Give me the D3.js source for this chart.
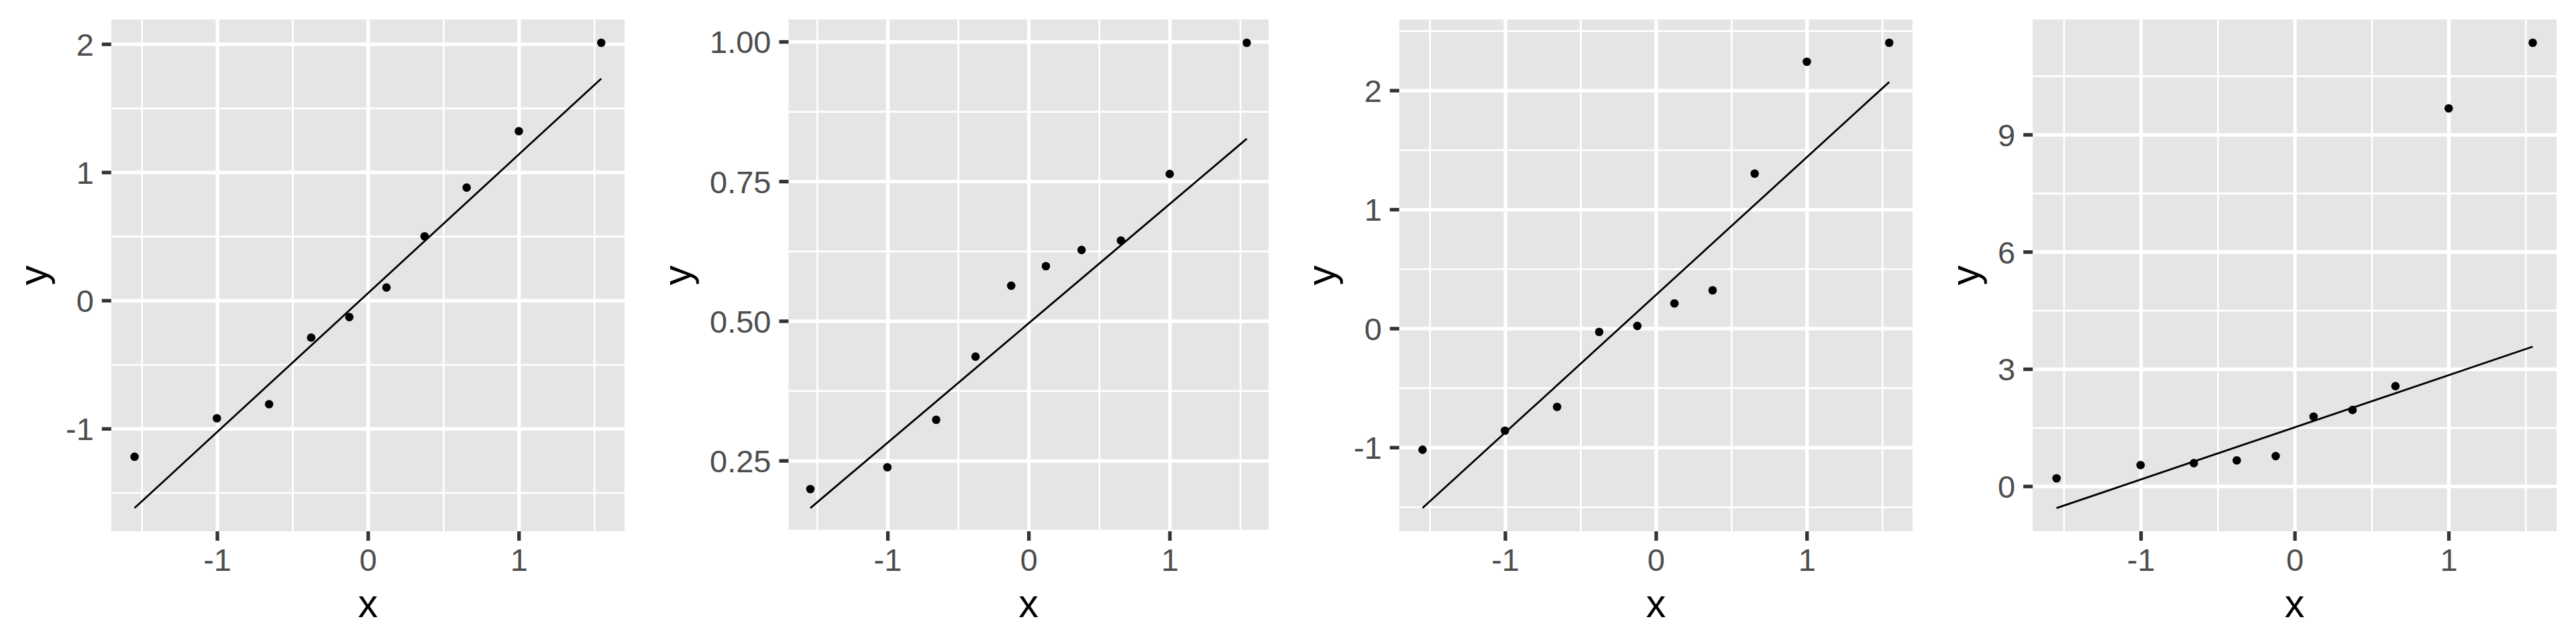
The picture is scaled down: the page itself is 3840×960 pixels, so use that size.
<!DOCTYPE html>
<html>
<head>
<meta charset="utf-8">
<script src="https://cdn.jsdelivr.net/npm/d3@7"></script>
<style>
  body { margin: 0; background: #fff; }
  svg { display: block; font-family: 'Liberation Sans', Arial, sans-serif; }
</style>
</head>
<body>
<svg></svg>
<script>
// theoretical normal quantiles (x) shared by all four panels
const theoretical = [-1.547, -1.001, -0.655, -0.376, -0.123, 0.123, 0.376, 0.655, 1.001, 1.547];

// sample quantiles (y)
const sampleA = [-1.22, -0.92, -0.81, -0.29, -0.13, 0.10, 0.50, 0.88, 1.32, 2.01];
const sampleB = [0.199, 0.238, 0.323, 0.436, 0.563, 0.598, 0.627, 0.644, 0.763, 0.998];
const sampleC = [-1.02, -0.86, -0.66, -0.03, 0.02, 0.21, 0.32, 1.30, 2.24, 2.40];
const sampleD = [0.20, 0.54, 0.59, 0.66, 0.77, 1.78, 1.95, 2.56, 9.67, 11.35];

// qq line: y at the first and last theoretical quantile
const lineA = [-1.62, 1.73];
const lineB = [0.165, 0.826];
const lineC = [-1.51, 2.07];
const lineD = [-0.56, 3.57];

// tick values and labels
const xTicks = [-1, 0, 1];
const xTickLabels = ['-1', '0', '1'];
const yTicksA = [-1, 0, 1, 2];
const yTickLabelsA = ['-1', '0', '1', '2'];
const yTicksB = [0.25, 0.5, 0.75, 1];
const yTickLabelsB = ['0.25', '0.50', '0.75', '1.00'];
const yTicksC = [-1, 0, 1, 2];
const yTickLabelsC = ['-1', '0', '1', '2'];
const yTicksD = [0, 3, 6, 9];
const yTickLabelsD = ['0', '3', '6', '9'];

const panels = [
	{ sample: sampleA, line: lineA, yTicks: yTicksA, yLabels: yTickLabelsA },
	{ sample: sampleB, line: lineB, yTicks: yTicksB, yLabels: yTickLabelsB },
	{ sample: sampleC, line: lineC, yTicks: yTicksC, yLabels: yTickLabelsC },
	{ sample: sampleD, line: lineD, yTicks: yTicksD, yLabels: yTickLabelsD }
];

const svg = d3.select('svg')
	.attr('width', 3840)
	.attr('height', 960);

const panelWidth = 960,
	height = 960,
	margin = { top: 29, right: 29, bottom: 168 },
	tickLength = 14,
	tickPad = 12,
	axisFont = 47,
	titleFont = 59;

const measure = svg.append('text')
	.style('font-size', axisFont + 'px')
	.attr('opacity', 0);
const textWidth = s => { measure.text(s); return measure.node().getComputedTextLength(); };

// ggplot style 5% expansion
const expand = ([a, b]) => [a - (b - a) * 0.05, b + (b - a) * 0.05];

// minor breaks halfway between majors, one step beyond on each side
const minorOf = (ticks, domain) => {
	const step = ticks[1] - ticks[0];
	const out = [];
	for (let v = ticks[0] - step / 2; v <= ticks[ticks.length - 1] + step; v += step) out.push(v);
	return out.filter(v => v >= domain[0] && v <= domain[1]);
};

const render = (p, i) => {
	const left = 124 + d3.max(p.yLabels, textWidth),
		innerWidth = panelWidth - margin.right - left,
		innerHeight = height - margin.top - margin.bottom;

	const xScale = d3.scaleLinear()
		.domain(expand(d3.extent(theoretical)))
		.range([0, innerWidth]);

	const yScale = d3.scaleLinear()
		.domain(expand(d3.extent(p.sample.concat(p.line))))
		.range([innerHeight, 0]);

	const g = svg.append('g')
		.attr('transform', `translate(${i * panelWidth + left}, ${margin.top})`);

	g.append('rect')
		.attr('width', innerWidth)
		.attr('height', innerHeight)
		.attr('fill', '#E5E5E5');

	// grid lines
	const grid = (axis, values, size, w) => {
		const gg = g.append('g')
			.call(axis.tickValues(values).tickSize(size).tickFormat(''));
		gg.select('.domain').remove();
		gg.selectAll('line').attr('stroke', '#fff').attr('stroke-width', w);
		return gg;
	};
	grid(d3.axisLeft(yScale), minorOf(p.yTicks, yScale.domain()), -innerWidth, 2.7);
	grid(d3.axisBottom(xScale), minorOf(xTicks, xScale.domain()), -innerHeight, 2.7)
		.attr('transform', `translate(0, ${innerHeight})`);
	grid(d3.axisLeft(yScale), p.yTicks, -innerWidth, 5.3);
	grid(d3.axisBottom(xScale), xTicks, -innerHeight, 5.3)
		.attr('transform', `translate(0, ${innerHeight})`);

	// axes
	const yAxisG = g.append('g')
		.call(d3.axisLeft(yScale)
			.tickValues(p.yTicks)
			.tickFormat((d, j) => p.yLabels[j])
			.tickSize(tickLength)
			.tickPadding(tickPad));
	const xAxisG = g.append('g')
		.attr('transform', `translate(0, ${innerHeight})`)
		.call(d3.axisBottom(xScale)
			.tickValues(xTicks)
			.tickFormat((d, j) => xTickLabels[j])
			.tickSize(tickLength)
			.tickPadding(tickPad));

	[yAxisG, xAxisG].forEach(a => {
		a.select('.domain').remove();
		a.attr('font-family', null).attr('font-size', null).attr('color', '#333333');
		a.selectAll('line').attr('stroke-width', 5.3);
		a.selectAll('text')
			.style('font-size', axisFont + 'px')
			.attr('fill', '#4D4D4D');
	});
	yAxisG.selectAll('text').attr('dy', '0.36em');

	// qq line
	const ends = d3.extent(theoretical);
	g.append('line')
		.attr('x1', xScale(ends[0]))
		.attr('y1', yScale(p.line[0]))
		.attr('x2', xScale(ends[1]))
		.attr('y2', yScale(p.line[1]))
		.attr('stroke', 'black')
		.attr('stroke-width', 2.8);

	g.selectAll('circle')
		.data(p.sample)
		.enter()
		.append('circle')
			.attr('cx', (d, j) => xScale(theoretical[j]))
			.attr('cy', d => yScale(d))
			.attr('r', 6.3)
			.attr('fill', 'black');

	g.append('text')
		.attr('x', innerWidth / 2)
		.attr('y', innerHeight + 128)
		.attr('text-anchor', 'middle')
		.style('font-size', titleFont + 'px')
		.text('x');

	g.append('text')
		.attr('transform', `translate(${70 - left}, ${innerHeight / 2}) rotate(-90)`)
		.attr('text-anchor', 'middle')
		.style('font-size', titleFont + 'px')
		.text('y');
};

panels.forEach(render);
measure.remove();
</script>
</body>
</html>
